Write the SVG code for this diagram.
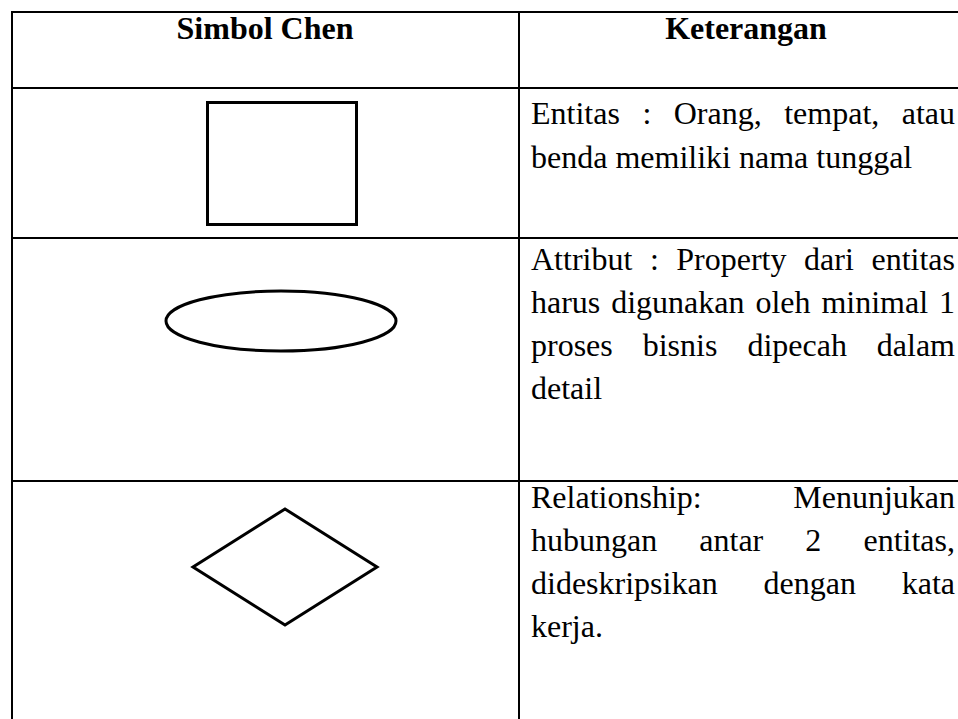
<svg xmlns="http://www.w3.org/2000/svg" width="958" height="719" viewBox="0 0 958 719">
<style>
.grid{stroke:#000;stroke-width:2;fill:none}
.sym{stroke:#000;stroke-width:3;fill:#fff}
.hd{font-family:"Liberation Serif","Times New Roman",serif;font-size:32px;font-weight:bold;fill:#000;text-anchor:middle}
.tx{font-family:"Liberation Serif","Times New Roman",serif;font-size:32px;fill:#000}
.e{text-anchor:end}
</style>
<rect width="958" height="719" fill="#fff"/>
<g id="table-lines" class="grid">
<line x1="11" y1="12" x2="958" y2="12"/>
<line x1="11" y1="88" x2="958" y2="88"/>
<line x1="11" y1="238" x2="958" y2="238"/>
<line x1="11" y1="481" x2="958" y2="481"/>
<line x1="12" y1="11" x2="12" y2="719"/>
<line x1="519" y1="11" x2="519" y2="719"/>
</g>
<g id="header">
<text class="hd" x="265" y="39">Simbol Chen</text>
<text class="hd" x="746" y="39">Keterangan</text>
</g>
<g id="row-entitas">
<rect class="sym" x="207.5" y="102.5" width="149" height="122"/>
<text class="tx" y="124"><tspan x="531">Entitas</tspan><tspan x="642.4">:</tspan><tspan x="673.7">Orang,</tspan><tspan x="784.2">tempat,</tspan></text>
<text class="tx e" x="955" y="124">atau</text>
<text class="tx" x="531" y="168">benda memiliki nama tunggal</text>
</g>
<g id="row-attribut">
<ellipse class="sym" cx="281" cy="321" rx="115" ry="30"/>
<text class="tx" y="270"><tspan x="531">Attribut</tspan><tspan x="649.9">:</tspan><tspan x="676.3">Property</tspan><tspan x="804.1">dari</tspan></text>
<text class="tx e" x="955" y="270">entitas</text>
<text class="tx" y="313"><tspan x="531">harus</tspan><tspan x="611.2">digunakan</tspan><tspan x="755.4">oleh</tspan><tspan x="821.4">minimal</tspan></text>
<text class="tx e" x="955" y="313">1</text>
<text class="tx" y="356"><tspan x="531">proses</tspan><tspan x="642.7">bisnis</tspan><tspan x="747.4">dipecah</tspan></text>
<text class="tx e" x="955" y="356">dalam</text>
<text class="tx" x="531" y="399">detail</text>
</g>
<g id="row-relationship">
<polygon class="sym" points="285,509 377,567 285,625 193,567"/>
<text class="tx" x="531" y="508">Relationship:</text>
<text class="tx e" x="955" y="508">Menunjukan</text>
<text class="tx" y="551"><tspan x="531">hubungan</tspan><tspan x="699.3">antar</tspan><tspan x="805.3">2</tspan></text>
<text class="tx e" x="955" y="551">entitas,</text>
<text class="tx" y="594"><tspan x="531">dideskripsikan</tspan><tspan x="763.5">dengan</tspan></text>
<text class="tx e" x="955" y="594">kata</text>
<text class="tx" x="531" y="637">kerja.</text>
</g>
</svg>
